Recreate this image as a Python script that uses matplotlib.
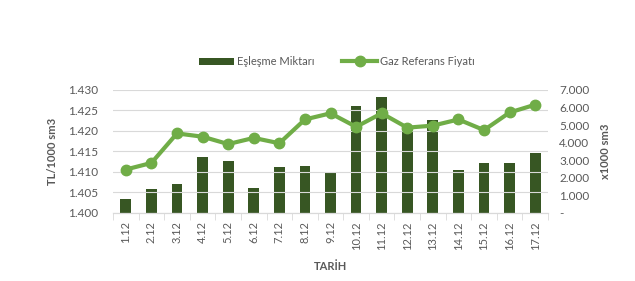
import matplotlib.pyplot as plt
import numpy as np
from matplotlib.ticker import FuncFormatter

plt.rcParams['font.family'] = ['Lato', 'DejaVu Sans']

# data
dates = ['1.12', '2.12', '3.12', '4.12', '5.12', '6.12', '7.12', '8.12', '9.12',
         '10.12', '11.12', '12.12', '13.12', '14.12', '15.12', '16.12', '17.12']
eslesme = [820, 1390, 1670, 3210, 2930, 1450, 2640, 2700, 2300,
           6070, 6580, 4900, 5270, 2470, 2820, 2870, 3390]
fiyat = [1.4106, 1.4122, 1.4194, 1.4186, 1.4168, 1.4183, 1.4170, 1.4228, 1.4243,
         1.4210, 1.4243, 1.4208, 1.4213, 1.4228, 1.4202, 1.4245, 1.4264]

bar_col = '#375623'
line_col = '#70AD47'
txt_col = '#595959'
grid_col = '#D9D9D9'

fig = plt.figure(figsize=(6.35, 2.81), dpi=100)
ax1 = fig.add_axes([0.178, 0.242, 0.685, 0.438])
ax2 = ax1.twinx()

x = np.arange(len(dates))

# bars on the secondary axis, line on the primary one
ax2.bar(x, eslesme, width=0.42, color=bar_col, zorder=2, label='Eşleşme Miktarı')
ax2.set_ylim(0, 7000)
ax2.set_yticks(np.arange(0, 7001, 1000))
ax2.yaxis.set_major_formatter(FuncFormatter(
    lambda v, p: '-' if v == 0 else f'{int(v):,}'.replace(',', '.')))

ax1.set_ylim(1.400, 1.430)
ax1.set_yticks(np.arange(1.400, 1.4301, 0.005))
ax1.yaxis.set_major_formatter(FuncFormatter(lambda v, p: f'{v:.3f}'))
ax1.set_xlim(-0.5, len(dates) - 0.5)
ax1.yaxis.grid(True, color=grid_col, linewidth=0.8)
ax1.set_axisbelow(True)

# draw the line above the bars
ax1.set_zorder(ax2.get_zorder() + 1)
ax1.patch.set_visible(False)
ax1.plot(x, fiyat, color=line_col, linewidth=3, marker='o', markersize=7.5,
         zorder=5, label='Gaz Referans Fiyatı')

ax1.set_xticks(x)
ax1.set_xticklabels(dates, rotation=90, fontsize=8, color=txt_col)
ax1.set_xticks(np.arange(-0.5, len(dates)), minor=True)
ax1.tick_params(axis='x', which='major', length=0, pad=6)
ax1.tick_params(axis='x', which='minor', length=5, color=grid_col)
ax1.tick_params(axis='y', length=0, labelsize=8.5, labelcolor=txt_col, pad=11)
ax2.tick_params(axis='y', length=0, labelsize=8.5, labelcolor=txt_col, pad=8)

for a in (ax1, ax2):
    for s in ['top', 'left', 'right']:
        a.spines[s].set_visible(False)
    a.spines['bottom'].set_color(grid_col)

ax1.set_ylabel('TL/1000 sm3', fontsize=8, fontweight='bold', color=txt_col, labelpad=7)
ax2.set_ylabel('x1000 sm3', fontsize=8, fontweight='bold', color=txt_col, labelpad=8)
ax1.set_xlabel('TARİH', fontsize=8, fontweight='bold', color=txt_col, labelpad=8)

h1, l1 = ax2.get_legend_handles_labels()
h2, l2 = ax1.get_legend_handles_labels()
fig.legend(h1 + h2, l1 + l2, loc='center', bbox_to_anchor=(0.53, 0.78), ncol=2,
           frameon=False, fontsize=8, labelcolor=txt_col, handlelength=3.2,
           handletextpad=0.2, columnspacing=2.5)

fig.savefig('out.png', dpi=100)
